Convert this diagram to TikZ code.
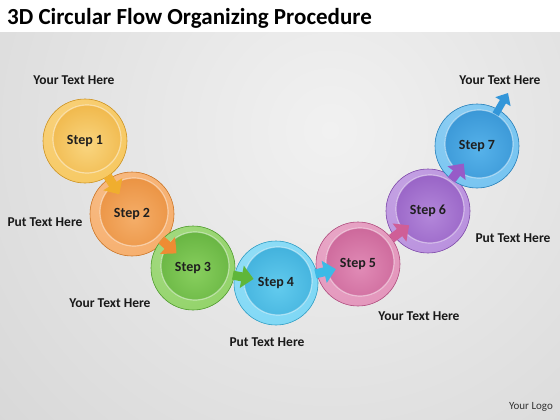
\documentclass[tikz,border=0pt]{standalone}
\usepackage{fontspec}
\setmainfont{Carlito}
\usetikzlibrary{arrows.meta,calc}
\definecolor{bgin}{HTML}{F1F1F1}
\definecolor{bgout}{HTML}{CDCDCD}
% step colours: base, ring, inner centre, inner edge
\definecolor{ya}{HTML}{F0AE2E}\definecolor{yb}{HTML}{F6C24F}\definecolor{yc}{HTML}{F9D57F}\definecolor{yd}{HTML}{E9A020}
\definecolor{oa}{HTML}{EE8C33}\definecolor{ob}{HTML}{F5A55C}\definecolor{oc}{HTML}{F5AE69}\definecolor{od}{HTML}{E27C22}
\definecolor{ga}{HTML}{5FB63A}\definecolor{gb}{HTML}{86CE58}\definecolor{gc}{HTML}{88CF5E}\definecolor{gd}{HTML}{4C9E2A}
\definecolor{ca}{HTML}{3DBAE6}\definecolor{cb}{HTML}{6FD3F4}\definecolor{cc}{HTML}{62CBEE}\definecolor{cd}{HTML}{279CCE}
\definecolor{pa}{HTML}{CF5E97}\definecolor{pb}{HTML}{E08AB4}\definecolor{pc}{HTML}{E18BB6}\definecolor{pd}{HTML}{BB4A83}
\definecolor{va}{HTML}{975BC8}\definecolor{vb}{HTML}{B184DA}\definecolor{vc}{HTML}{B387DA}\definecolor{vd}{HTML}{8145B5}
\definecolor{ba}{HTML}{3396D9}\definecolor{bb}{HTML}{66BDEF}\definecolor{bc}{HTML}{56B2EA}\definecolor{bd}{HTML}{2280C5}
\newcommand\stepfnt{\fontsize{14}{16}\selectfont\bfseries}
\newcommand\lblfnt{\fontsize{13.5}{16}\selectfont\bfseries}
\begin{document}
\begin{tikzpicture}[x=1pt,y=-1pt,
  disc/.style n args={4}{circle, minimum size=84pt, inner sep=0pt, fill=#2,
    draw=#1!85!black, line width=0.6pt, font=\stepfnt, text=black!88,
    path picture={
      \shade[inner color=#2!75!white, outer color=#2]
        ([shift={(-18pt,18pt)}]path picture bounding box.center) circle (120pt);
      \begin{scope}
        \clip ([shift={(2pt,2pt)}]path picture bounding box.center) circle (34pt);
        \shade[inner color=#3, outer color=#4]
          ([shift={(2pt,-4pt)}]path picture bounding box.center) circle (76pt);
      \end{scope}
      \draw[white, opacity=0.45, line width=1.2pt]
        ([shift={(2pt,2pt)}]path picture bounding box.center) circle (34pt);
    }},
  flowarrow/.style={line width=9pt, draw=#1, -{Triangle[width=22pt,length=12pt]}},
  lbl/.style={font=\lblfnt, text=black!90}
]
\useasboundingbox (0,0) rectangle (560,420);
\fill[white] (0,0) rectangle (560,33);
\begin{scope}
  \clip (0,33) rectangle (560,420);
  \shade[inner color=bgin, outer color=bgout] (330,130) circle (640pt);
\end{scope}

\node[anchor=base west, inner sep=0pt, font=\fontsize{23}{27}\selectfont\bfseries, text=black] (title) at (7,25) {3D Circular Flow Organizing Procedure};

\node[disc={ya}{yb}{yc}{yd}] (s1) at (85,141) {Step 1};
\node[disc={oa}{ob}{oc}{od}] (s2) at (132,214) {Step 2};
\node[disc={ga}{gb}{gc}{gd}] (s3) at (193,268) {Step 3};
\node[disc={ca}{cb}{cc}{cd}] (s4) at (276,283) {Step 4};
\node[disc={pa}{pb}{pc}{pd}] (s5) at (358,264) {Step 5};
\node[disc={va}{vb}{vc}{vd}] (s6) at (428,211) {Step 6};
\node[disc={ba}{bb}{bc}{bd}] (s7) at (477,146) {Step 7};
\coordinate (out) at (508,93);

\draw[flowarrow=ya] ($(s1)!0.48!(s2)$) -- ($(s1)!0.73!(s2)$);
\draw[flowarrow=oa] ($(s2)!0.48!(s3)$) -- ($(s2)!0.73!(s3)$);
\draw[flowarrow=ga] ($(s3)!0.48!(s4)$) -- ($(s3)!0.73!(s4)$);
\draw[flowarrow=ca] ($(s4)!0.48!(s5)$) -- ($(s4)!0.73!(s5)$);
\draw[flowarrow=pa] ($(s5)!0.48!(s6)$) -- ($(s5)!0.73!(s6)$);
\draw[flowarrow=va] ($(s6)!0.48!(s7)$) -- ($(s6)!0.73!(s7)$);
\draw[flowarrow=ba, line width=7pt, -{Triangle[width=17pt,length=10pt]}] ($(s7)!0.6!(out)$) -- (out);

\node[lbl] (t1) at (74,80) {Your Text Here};
\node[lbl] (t2) at (45,222) {Put Text Here};
\node[lbl] (t3) at (110,303) {Your Text Here};
\node[lbl] (t4) at (267,342) {Put Text Here};
\node[lbl] (t5) at (419,316) {Your Text Here};
\node[lbl] (t6) at (513,238) {Put Text Here};
\node[lbl] (t7) at (500,80) {Your Text Here};
\node[font=\fontsize{11}{13}\selectfont, text=black!80] (logo) at (531,407) {Your Logo};
\end{tikzpicture}
\end{document}
